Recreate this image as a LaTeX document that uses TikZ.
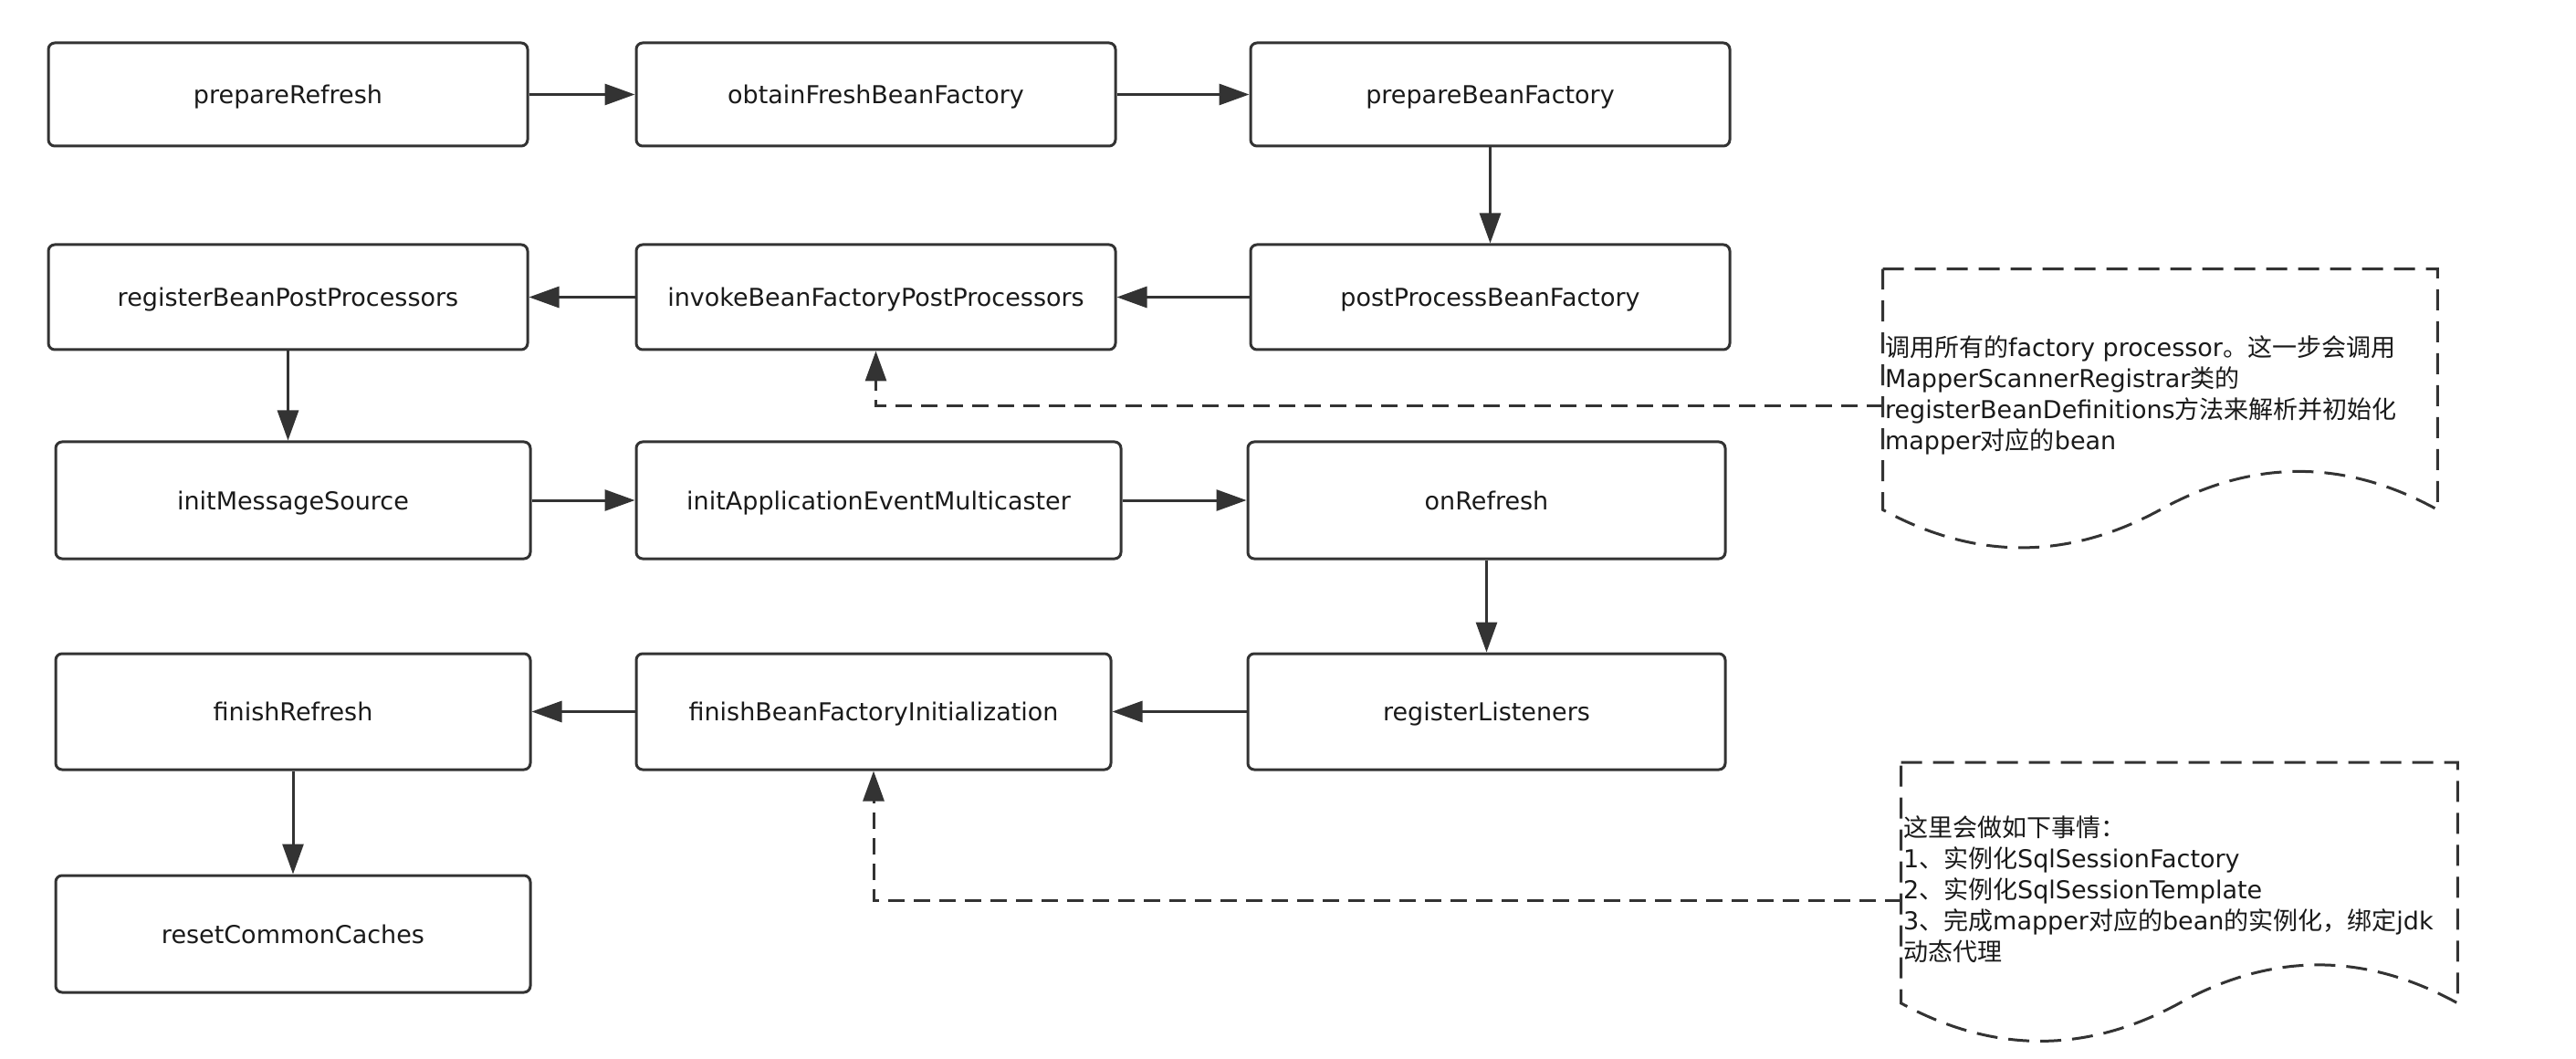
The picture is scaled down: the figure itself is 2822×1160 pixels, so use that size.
\documentclass[tikz,border=0pt]{standalone}
\usepackage{fontspec}
\setmainfont{DejaVu Sans}
\newfontfamily\cjk{Noto Sans CJK SC}
\usetikzlibrary{arrows.meta,calc}
\definecolor{ln}{HTML}{333333}
\definecolor{tx}{HTML}{1A1A1A}
\begin{document}
\begin{tikzpicture}[x=0.5pt,y=-0.5pt,
  box/.style={draw=ln, line width=1.5pt, rounded corners=3.5pt, minimum width=262.5pt,
    inner sep=0pt, text depth=0pt, font=\fontsize{13.5pt}{17pt}\selectfont, text=tx},
  arr/.style={draw=ln, line width=1.5pt, -{Triangle[length=16.5pt,width=11.5pt]}},
  darr/.style={arr, dash pattern=on 9pt off 5pt},
  note/.style={draw=ln, line width=1.5pt, dash pattern=on 11.5pt off 6pt, line join=miter},
  noteshape/.style={draw=none, inner sep=0pt, minimum height=131.5pt},
  notetext/.style={inner sep=0pt, align=left, anchor=west, text=tx,
    font=\fontsize{13.5pt}{17pt}\selectfont}]
\useasboundingbox (0,0) rectangle (2822,1160);
\fill[white] (0,0) rectangle (2822,1160);

% row 1
\node[box, minimum height=56.5pt] (b1) at (315.5,103.5) {prepareRefresh};
\node[box, minimum height=56.5pt] (b2) at (959.5,103.5) {obtainFreshBeanFactory};
\node[box, minimum height=56.5pt] (b3) at (1632.5,103.5) {prepareBeanFactory};
% row 2
\node[box, minimum height=57.5pt] (b4) at (1632.5,325.5) {postProcessBeanFactory};
\node[box, minimum height=57.5pt] (b5) at (959.5,325.5) {invokeBeanFactoryPostProcessors};
\node[box, minimum height=57.5pt] (b6) at (315.5,325.5) {registerBeanPostProcessors};
% row 3
\node[box, minimum height=64pt, minimum width=260pt] (b7) at (321,548) {initMessageSource};
\node[box, minimum height=64pt, minimum width=265.5pt] (b8) at (962.5,548) {initApplicationEventMulticaster};
\node[box, minimum height=64pt, minimum width=261.5pt] (b9) at (1628.5,548) {onRefresh};
% row 4
\node[box, minimum height=63.5pt, minimum width=261.5pt] (b10) at (1628.5,779.5) {registerListeners};
\node[box, minimum height=63.5pt, minimum width=260pt] (b11) at (957,779.5) {finishBeanFactoryInitialization};
\node[box, minimum height=63.5pt, minimum width=260pt] (b12) at (321,779.5) {finishRefresh};
% row 5
\node[box, minimum height=64pt, minimum width=260pt] (b13) at (321,1023) {resetCommonCaches};

% connectors
\draw[arr] (b1) -- (b2);
\draw[arr] (b2) -- (b3);
\draw[arr] (b3) -- (b4);
\draw[arr] (b4) -- (b5);
\draw[arr] (b5) -- (b6);
\draw[arr] (b6.south) -- (b6.south |- b7.north);
\draw[arr] (b7) -- (b7 -| b8.west);
\draw[arr] (b8) -- (b8 -| b9.west);
\draw[arr] (b9.south) -- (b9.south |- b10.north);
\draw[arr] (b10) -- (b11);
\draw[arr] (b11) -- (b12);
\draw[arr] (b12) -- (b13);

% note 1
\node[noteshape, minimum width=303.5pt] (n1) at (2366.5,426.5) {};
\draw[note] (n1.north west) -- (n1.north east) -- (n1.south east)
  .. controls +(-101.17,-56) and +(101.17,-56) .. (n1.south)
  .. controls +(-101.17,55.33) and +(101.17,55.33) .. (n1.south west) -- cycle;
\node[notetext] (t1) at ($(n1.west)+(2,6)$) {{\cjk 调用所有的}factory processor{\cjk 。这一步会调用}\\
MapperScannerRegistrar{\cjk 类的}\\
registerBeanDefinitions{\cjk 方法来解析并初始化}\\
mapper{\cjk 对应的}bean};
\coordinate (c1) at ($(n1.north west)+(0,150)$);
\draw[darr] (c1) -| (b5.south);

% note 2
\node[noteshape, minimum width=304.5pt] (n2) at (2387.5,967) {};
\draw[note] (n2.north west) -- (n2.north east) -- (n2.south east)
  .. controls +(-101.5,-56) and +(101.5,-56) .. (n2.south)
  .. controls +(-101.5,55.33) and +(101.5,55.33) .. (n2.south west) -- cycle;
\node[notetext] (t2) at ($(n2.west)+(2,7)$) {{\cjk 这里会做如下事情：}\\
1{\cjk 、实例化}SqlSessionFactory\\
2{\cjk 、实例化}SqlSessionTemplate\\
3{\cjk 、完成}mapper{\cjk 对应的}bean{\cjk 的实例化，绑定}jdk\\
{\cjk 动态代理}};
\coordinate (c2) at ($(n2.north west)+(0,151)$);
\draw[darr] (c2) -| (b11.south);
\end{tikzpicture}
\end{document}
